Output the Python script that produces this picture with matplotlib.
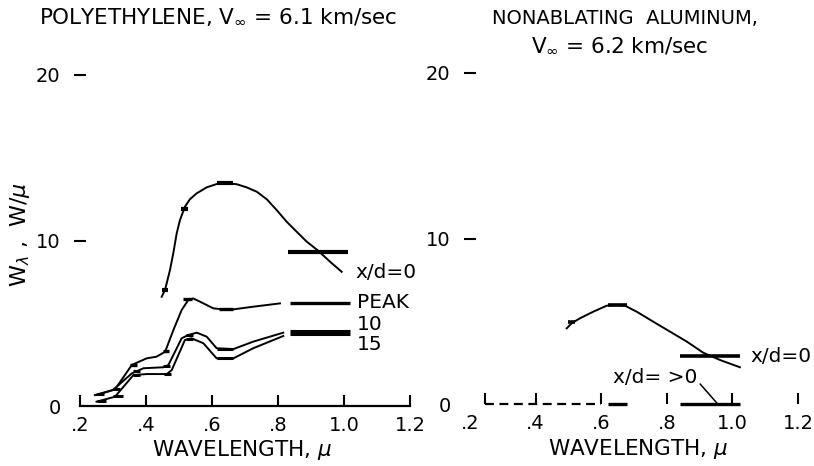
import matplotlib.pyplot as plt

# Polietileno, V = 6.1 km/s  (comprimento de onda em micron, W/micron)
poly_x0_lam = [0.4475, 0.4576, 0.4727, 0.4827, 0.493, 0.503, 0.518, 0.533, 0.5536, 0.584, 0.614,
               0.6445, 0.675, 0.705, 0.7355, 0.766, 0.796, 0.826, 0.8566, 0.887, 0.922, 0.9576, 0.993]
poly_x0_w = [6.60, 7.01, 8.22, 9.23, 10.43, 11.24, 12.04, 12.49, 12.85, 13.21, 13.41,
             13.46, 13.40, 13.21, 12.95, 12.49, 11.84, 11.14, 10.53, 9.93, 9.38, 8.72, 8.11]

poly_peak_lam = [0.25, 0.306, 0.357, 0.402, 0.432, 0.458, 0.483, 0.508, 0.528, 0.543,
                 0.564, 0.604, 0.634, 0.665, 0.725, 0.806]
poly_peak_w = [0.66, 1.0, 2.48, 2.88, 2.98, 3.28, 4.59, 5.8, 6.4, 6.5,
               6.3, 5.9, 5.84, 5.84, 6.0, 6.2]

poly_10_lam = [0.245, 0.30, 0.357, 0.392, 0.452, 0.468, 0.508, 0.528, 0.554, 0.584,
               0.614, 0.665, 0.725, 0.816]
poly_10_w = [0.66, 0.97, 1.97, 2.28, 2.34, 2.48, 4.09, 4.29, 4.43, 4.19,
             3.49, 3.44, 3.89, 4.43]

poly_15_lam = [0.25, 0.306, 0.362, 0.402, 0.463, 0.478, 0.518, 0.538, 0.574, 0.614,
               0.665, 0.725, 0.816]
poly_15_w = [0.26, 0.56, 1.87, 1.93, 1.93, 2.17, 3.99, 4.09, 3.79, 2.88,
             2.88, 3.49, 4.23]

# faixas medidas (inicio, fim, valor)
poly_x0_bands = [(0.448, 0.468, 7.0), (0.505, 0.527, 11.9), (0.614, 0.665, 13.45), (0.831, 1.013, 9.32)]
poly_peak_bands = [(0.35, 0.372, 2.5), (0.45, 0.47, 3.3), (0.513, 0.54, 6.45),
                   (0.62, 0.665, 5.84), (0.836, 1.018, 6.24)]
poly_10_bands = [(0.25, 0.272, 0.75), (0.30, 0.322, 1.0), (0.36, 0.382, 2.1), (0.45, 0.472, 2.4),
                 (0.52, 0.542, 4.3), (0.614, 0.665, 3.45), (0.836, 1.018, 4.55)]
poly_15_bands = [(0.25, 0.28, 0.3), (0.30, 0.33, 0.6), (0.36, 0.382, 1.9), (0.455, 0.477, 1.95),
                 (0.52, 0.542, 4.05), (0.614, 0.665, 2.88), (0.836, 1.018, 4.33)]

# Aluminio nao ablativo, V = 6.2 km/s
al_x0_lam = [0.4948, 0.510, 0.5354, 0.576, 0.6168, 0.647, 0.6726, 0.708, 0.759,
             0.81, 0.861, 0.911, 0.962, 1.023]
al_x0_w = [4.57, 4.88, 5.18, 5.58, 5.94, 5.98, 5.94, 5.58, 4.97,
           4.37, 3.77, 3.10, 2.66, 2.22]
al_x0_bands = [(0.50, 0.52, 4.95), (0.62, 0.68, 5.98), (0.84, 1.022, 2.92)]
al_gt0_dash_lam = [0.245, 0.60]
al_gt0_dash_w = [0, 0]
al_gt0_bands = [(0.62, 0.68, 0), (0.84, 1.022, 0)]

x_ticks = [0.2, 0.4, 0.6, 0.8, 1.0, 1.2]
x_ticklabels = ['.2', '.4', '.6', '.8', '1.0', '1.2']
y_ticks = [0, 10, 20]

plt.rcParams['font.family'] = 'DejaVu Sans'
plt.rcParams['mathtext.fontset'] = 'dejavusans'

W, H = 814, 466
fig = plt.figure(figsize=(W / 100, H / 100), dpi=100)
ax1 = fig.add_axes([80 / W, (H - 406) / H, 330 / W, 331 / H])
ax2 = fig.add_axes([470 / W, (H - 404) / H, 328 / W, 331 / H])

def estilo(ax):
    ax.set_xlim(0.2, 1.2)
    ax.set_ylim(0, 20)
    for s in ['top', 'right', 'left', 'bottom']:
        ax.spines[s].set_visible(False)
    ax.set_xticks(x_ticks)
    ax.set_xticklabels(x_ticklabels)
    ax.set_yticks(y_ticks)
    ax.set_yticklabels([str(t) for t in y_ticks])
    ax.tick_params(axis='x', direction='in', length=8, width=1.5, pad=7, labelsize=14)
    ax.tick_params(axis='y', direction='inout', length=8, width=1.5, pad=10, labelsize=14)
    ax.patch.set_alpha(0)

estilo(ax1)
estilo(ax2)
ax1.spines['bottom'].set_visible(True)
ax1.spines['bottom'].set_linewidth(1.6)
ax1.yaxis.get_major_ticks()[0].tick1line.set_visible(False)
ax2.yaxis.get_major_ticks()[0].tick1line.set_visible(False)
ax2.xaxis.get_major_ticks()[0].tick1line.set_visible(False)
ax2.set_xticks([al_gt0_dash_lam[0]], minor=True)
ax2.tick_params(axis='x', which='minor', direction='in', length=8, width=1.5)

def faixas(ax, bands, lw):
    ax.hlines([b[2] for b in bands], [b[0] for b in bands], [b[1] for b in bands],
              colors='black', linewidth=lw, clip_on=False)

# painel esquerdo
for lam, w in [(poly_x0_lam, poly_x0_w), (poly_peak_lam, poly_peak_w),
               (poly_10_lam, poly_10_w), (poly_15_lam, poly_15_w)]:
    ax1.plot(lam, w, color='black', linewidth=1.4, clip_on=False)
faixas(ax1, poly_x0_bands, 3.0)
faixas(ax1, poly_peak_bands, 2.4)
faixas(ax1, poly_10_bands, 2.2)
faixas(ax1, poly_15_bands, 2.2)

ax1.text(1.035, 8.05, 'x/d=0', fontsize=14.5, va='center', ha='left')
ax1.text(1.04, 6.25, 'PEAK', fontsize=14.5, va='center', ha='left')
ax1.text(1.04, 4.9, '10', fontsize=14.5, va='center', ha='left')
ax1.text(1.04, 3.7, '15', fontsize=14.5, va='center', ha='left')

# painel direito
ax2.plot(al_x0_lam, al_x0_w, color='black', linewidth=1.4, clip_on=False)
faixas(ax2, al_x0_bands, 2.6)
ax2.plot(al_gt0_dash_lam, al_gt0_dash_w, color='black', linewidth=1.6,
         linestyle=(0, (4, 2.5)), clip_on=False)
faixas(ax2, al_gt0_bands, 2.4)
ax2.text(1.054, 2.84, 'x/d=0', fontsize=14.5, va='center', ha='left')
ax2.annotate('x/d= >0', xy=(0.953, 0.05), xytext=(0.636, 1.63), fontsize=14.5,
             va='center', ha='left',
             arrowprops=dict(arrowstyle='-', color='black', linewidth=1.1,
                             shrinkA=0, shrinkB=0, relpos=(1.0, 0.3)))

# titulos e rotulos
fig.text(218 / W, 1 - 17 / H, r'POLYETHYLENE, $\mathrm{V}_{\infty}$ = 6.1 km/sec',
         fontsize=15.5, ha='center', va='center')
fig.text(625 / W, 1 - 18 / H, 'NONABLATING  ALUMINUM,', fontsize=14, ha='center', va='center')
fig.text(620 / W, 1 - 45 / H, r'$\mathrm{V}_{\infty}$ = 6.2 km/sec', fontsize=15.5,
         ha='center', va='center')
fig.text(242 / W, 1 - 450 / H, r'WAVELENGTH, $\mu$', fontsize=15.5, ha='center', va='center')
fig.text(638 / W, 1 - 449 / H, r'WAVELENGTH, $\mu$', fontsize=15.5, ha='center', va='center')
fig.text(20 / W, 1 - 235 / H, r'W$_\lambda$ ,  W/$\mu$', fontsize=16, ha='center', va='center',
         rotation=90)

fig.savefig('out.png', dpi=100)
